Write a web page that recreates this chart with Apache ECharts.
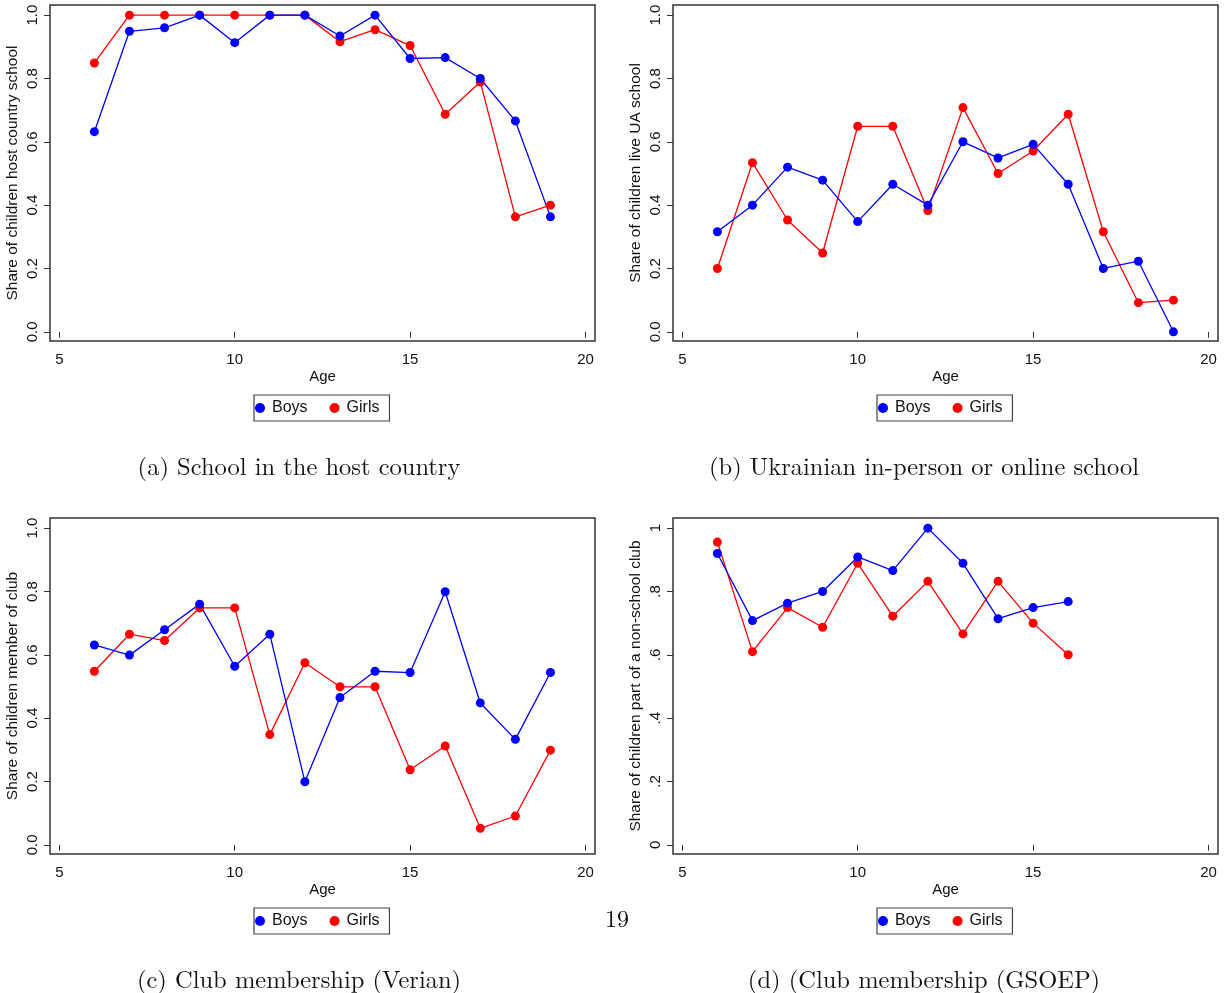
<!DOCTYPE html>
<html>
<head>
<meta charset="utf-8">
<script src="https://cdn.jsdelivr.net/npm/echarts@6/dist/echarts.min.js"></script>
<style>
  html, body { margin: 0; padding: 0; background: #fff; }
  #chart { width: 1225px; height: 993px; }
</style>
</head>
<body>
<div id="chart"></div>
<script>
// ages on the x axis
var ages = [6, 7, 8, 9, 10, 11, 12, 13, 14, 15, 16, 17, 18, 19];
var agesGsoep = [6, 7, 8, 9, 10, 11, 12, 13, 14, 15, 16];

// (a) school in the host country
var hostBoys  = [0.632, 0.949, 0.960, 1.0, 0.913, 1.0, 1.0, 0.934, 1.0, 0.863, 0.866, 0.800, 0.666, 0.363];
var hostGirls = [0.849, 1.0, 1.0, 1.0, 1.0, 1.0, 1.0, 0.916, 0.954, 0.904, 0.687, 0.789, 0.363, 0.400];

// (b) Ukrainian in-person or online school
var uaBoys  = [0.316, 0.400, 0.520, 0.479, 0.348, 0.466, 0.400, 0.600, 0.549, 0.592, 0.466, 0.200, 0.223, 0.0];
var uaGirls = [0.200, 0.534, 0.353, 0.249, 0.649, 0.649, 0.383, 0.708, 0.500, 0.571, 0.687, 0.316, 0.092, 0.100];

// (c) club membership (Verian)
var clubBoys  = [0.631, 0.599, 0.679, 0.760, 0.564, 0.665, 0.199, 0.465, 0.548, 0.544, 0.799, 0.448, 0.333, 0.544];
var clubGirls = [0.548, 0.665, 0.645, 0.748, 0.748, 0.348, 0.575, 0.499, 0.499, 0.237, 0.312, 0.052, 0.091, 0.299];

// (d) club membership (GSOEP)
var gsoepBoys  = [0.920, 0.708, 0.763, 0.800, 0.909, 0.866, 1.0, 0.889, 0.714, 0.749, 0.768];
var gsoepGirls = [0.956, 0.610, 0.749, 0.687, 0.889, 0.722, 0.832, 0.666, 0.832, 0.700, 0.600];

var xTicks = [5, 10, 15, 20];
var yTicks = [0, 0.2, 0.4, 0.6, 0.8, 1];
var yTitles = [
  'Share of children host country school',
  'Share of children live UA school',
  'Share of children member of club',
  'Share of children part of a non-school club'
];
var captions = [
  '(a) School in the host country',
  '(b) Ukrainian in-person or online school',
  '(c) Club membership (Verian)',
  '(d) (Club membership (GSOEP)'
];

var BLUE = '#0000ff', RED = '#ff0000', INK = '#333';
var sans = 'Liberation Sans, Arial, sans-serif';
var serif = 'Latin Modern Roman, DejaVu Serif, Liberation Serif, serif';

var boxes = [
  { left: 50, top: 5, cap: 250 },
  { left: 673, top: 5, cap: 252 },
  { left: 50, top: 518, cap: 250 },
  { left: 673, top: 518, cap: 252 }
];

function yFmt1(v) { return v.toFixed(1); }
function yFmtStata(v) {
  if (v === 0) return '0';
  if (v === 1) return '1';
  return String(v.toFixed(1)).replace(/^0/, '');
}

var grids = [], xAxes = [], yAxes = [], legends = [], titles = [];
boxes.forEach(function (b, i) {
  grids.push({
    left: b.left, top: b.top, width: 545, height: 336,
    show: true, borderColor: INK, borderWidth: 1.5, backgroundColor: 'transparent'
  });
  xAxes.push({
    type: 'value', gridIndex: i, min: 4.735, max: 20.27,
    splitLine: { show: false },
    axisLine: { show: false },
    axisTick: { show: true, length: 6, customValues: xTicks, lineStyle: { color: INK, width: 1 } },
    axisLabel: { customValues: xTicks, margin: 11, color: '#111', fontSize: 15, fontFamily: sans },
    name: 'Age', nameLocation: 'middle', nameGap: 28,
    nameTextStyle: { color: '#111', fontSize: 15, fontFamily: sans }
  });
  yAxes.push({
    type: 'value', gridIndex: i, min: -0.029, max: 1.032,
    splitLine: { show: false },
    axisLine: { show: false },
    axisTick: { show: true, length: 6, customValues: yTicks, lineStyle: { color: INK, width: 1 } },
    axisLabel: {
      customValues: yTicks, rotate: 90, margin: 10, color: '#111', fontSize: 15, fontFamily: sans,
      formatter: i === 3 ? yFmtStata : yFmt1
    },
    name: yTitles[i], nameLocation: 'middle', nameGap: 29,
    nameTextStyle: { color: '#111', fontSize: 15.5, fontFamily: sans }
  });
  legends.push({
    data: ['Boys', 'Girls'],
    left: b.left + 204, top: b.top + 390,
    orient: 'horizontal', icon: 'circle',
    itemWidth: 14, itemHeight: 10, itemGap: 22,
    padding: [5, 10, 5, 1],
    borderColor: '#444', borderWidth: 1.2,
    textStyle: { color: '#111', fontSize: 16, fontFamily: sans }
  });
  titles.push({
    text: captions[i],
    left: b.left + b.cap - 6, top: b.top + 445, textAlign: 'center',
    textStyle: { color: '#111', fontSize: 24.5, fontWeight: 'normal', fontFamily: serif }
  });
});
titles.push({
  text: '19', left: 612, top: 903, textAlign: 'center',
  textStyle: { color: '#111', fontSize: 24, fontWeight: 'normal', fontFamily: serif }
});

function pairs(xs, ys) {
  return ys.map(function (y, k) { return [xs[k], y]; });
}

var panels = [
  [ages, hostBoys, hostGirls],
  [ages, uaBoys, uaGirls],
  [ages, clubBoys, clubGirls],
  [agesGsoep, gsoepBoys, gsoepGirls]
];

var series = [];
panels.forEach(function (p, i) {
  [['Girls', p[2], RED], ['Boys', p[1], BLUE]].forEach(function (s) {
    series.push({
      name: s[0], type: 'line', xAxisIndex: i, yAxisIndex: i,
      data: pairs(p[0], s[1]),
      symbol: 'circle', symbolSize: 9, showSymbol: true,
      lineStyle: { color: s[2], width: 1.3 },
      itemStyle: { color: s[2] },
      emphasis: { disabled: true },
      animation: false
    });
  });
});

var chart = echarts.init(document.getElementById('chart'), null, { renderer: 'canvas' });
chart.setOption({
  backgroundColor: '#fff',
  animation: false,
  title: titles,
  legend: legends,
  grid: grids,
  xAxis: xAxes,
  yAxis: yAxes,
  series: series
});
</script>
</body>
</html>
